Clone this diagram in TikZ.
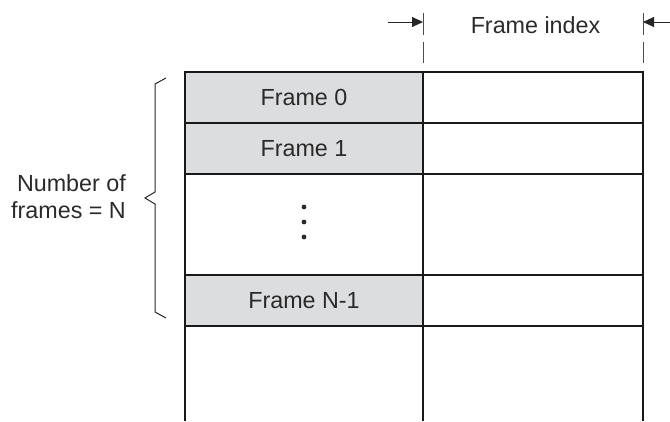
\documentclass[tikz,border=0pt]{standalone}
\usepackage{fontspec}
\setmainfont{Liberation Sans}
\usetikzlibrary{arrows.meta}
\definecolor{cellgray}{HTML}{DCDDDF}
\definecolor{txt}{HTML}{2A2A2A}
\begin{document}
\begin{tikzpicture}[x=1pt,y=-1pt,
  grid/.style={line width=1.6pt,draw=black!90},
  lbl/.style={text=txt,font=\fontsize{23.3}{28}\selectfont,inner sep=0pt},
  guide/.style={draw=black!70,line width=0.8pt,dash pattern=on 22pt off 7pt},
  dimarrow/.style={draw=black!85,line width=0.9pt,-{Triangle[length=11pt,width=10pt]}},
  bracestyle/.style={draw=black!85,line width=1pt}]
\useasboundingbox (0,0) rectangle (670,421);
% gray cells
\fill[cellgray] (185,72) rectangle (423,123);
\fill[cellgray] (185,123) rectangle (423,174);
\fill[cellgray] (185,275) rectangle (423,326);
% grid
\draw[grid] (185,421) -- (185,72) -- (643,72) -- (643,421);
\draw[grid] (423,72) -- (423,421);
\foreach \yy in {123,174,275,326} \draw[grid] (185,\yy) -- (643,\yy);
% labels
\node[lbl] (f0) at (304,97.5) {Frame 0};
\node[lbl] (f1) at (304,148.5) {Frame 1};
\node[lbl] (fn) at (304,300.5) {Frame N-1};
\foreach \yy/\nm in {207/d1,222/d2,237/d3} \fill[txt] (304,\yy) circle (2.4pt) coordinate (\nm);
% frame index
\node[lbl] (fi) at (535.5,25) {Frame index};
\coordinate (gl) at (423,22);
\coordinate (gr) at (643,22);
\coordinate (al) at (388,22);
\coordinate (ar) at (670,22);
\draw[guide] (423,13) -- (423,63);
\draw[guide] (643,13) -- (643,63);
\draw[dimarrow] (al) -- (gl);
\draw[dimarrow] (ar) -- (gr);
% brace
\draw[bracestyle] (166,78) -- (155,84) -- (155,192) -- (145,198) -- (155,204) -- (155,312) -- (166,318);
\node[lbl,align=right,font=\fontsize{23.3}{27}\selectfont,anchor=east] (num) at (126,197) {Number of\\frames = N};
\end{tikzpicture}
\end{document}
